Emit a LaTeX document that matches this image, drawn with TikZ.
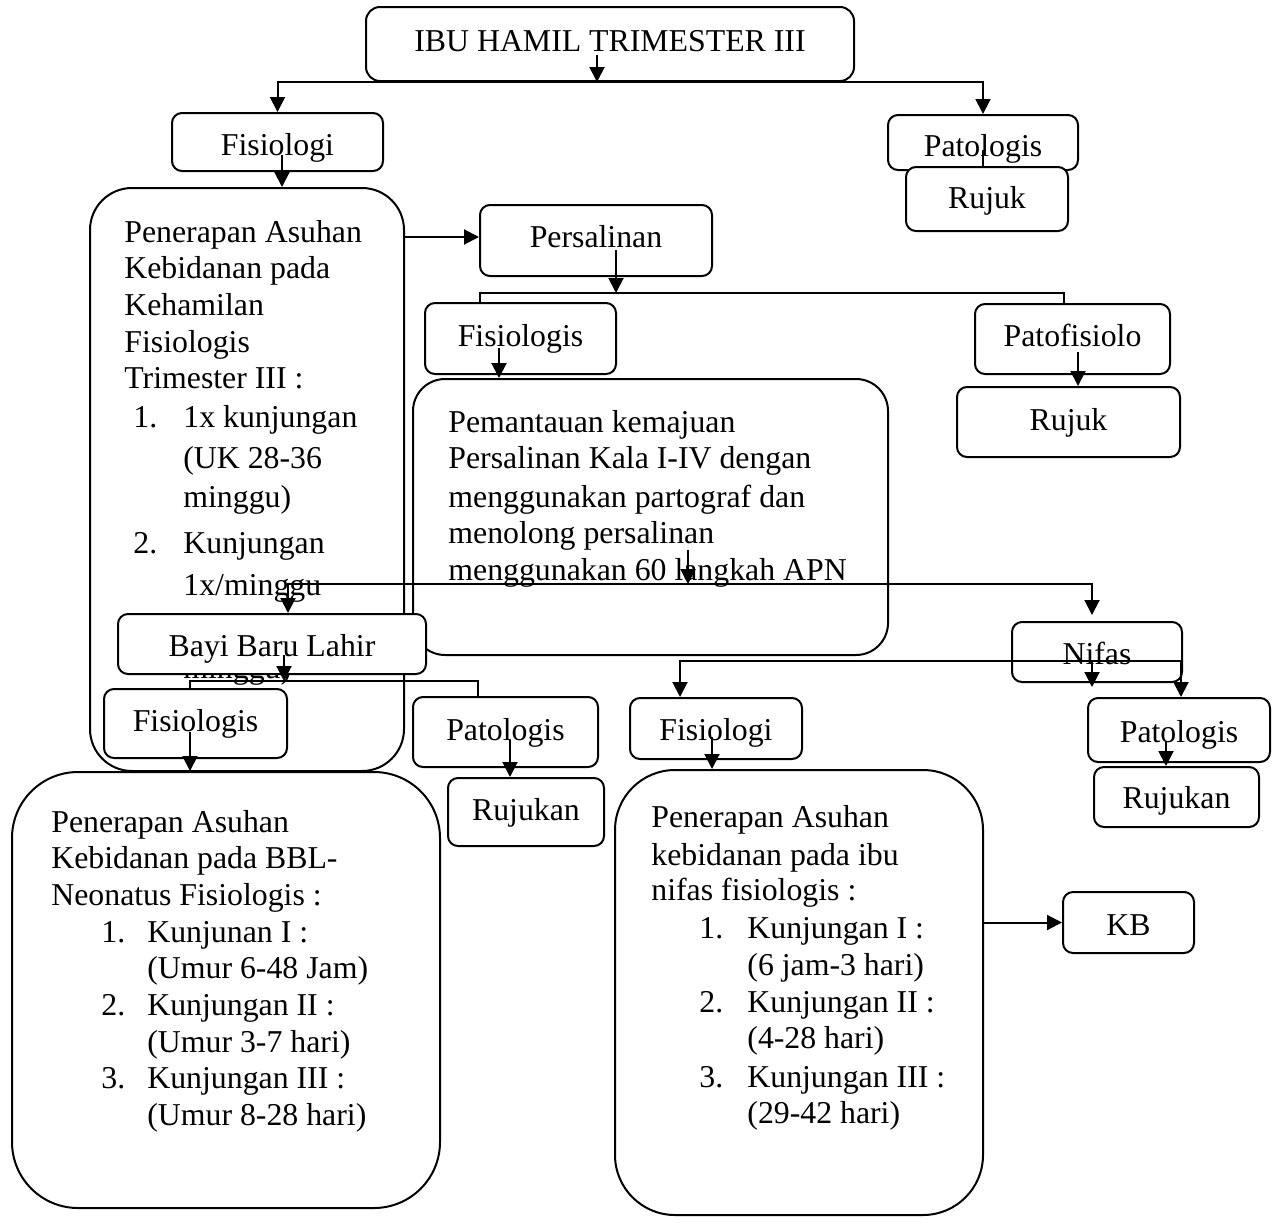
\documentclass[tikz,border=0pt]{standalone}
\usepackage{fontspec}
\setmainfont{Liberation Serif}[Ligatures={TeX,NoCommon}]
\usetikzlibrary{arrows.meta}
\newcommand\fsz{\fontsize{15.9}{18}\selectfont}
\newcommand\TL[1]{\hbox{\smash{#1}}}
\newcommand\SK[1]{\vskip #1\relax}
\begin{document}
\begin{tikzpicture}[x=0.5pt,y=-0.5pt,
  box/.style={draw, fill=white, line width=1pt, rounded corners=5pt, inner sep=0pt, font=\fsz, text depth=0pt},
  bl/.style={text height=#1},
  arr/.style={line width=1pt, -{Triangle[length=7.5pt,width=7.5pt]}},
  dbl/.style={line width=1pt, {Triangle[length=7.5pt,width=7.5pt]}-{Triangle[length=7.5pt,width=7.5pt]}},
  ln/.style={line width=1pt},
  txt/.style={anchor=base west, inner sep=0pt, font=\fsz}]
\fill[white] (0,0) rectangle (1273,1226);
\useasboundingbox (0,0) rectangle (1273,1226);

% --- top level
\node[box, rounded corners=7pt, minimum width=244pt, minimum height=37pt, bl=7pt] (title) at (610,44) {IBU HAMIL TRIMESTER III};
\node[box, minimum width=105.5pt, minimum height=29pt, bl=13pt] (fis1) at (277.5,142) {Fisiologi};
\node[box, minimum width=95pt, minimum height=27.5pt, bl=13.5pt] (pat1) at (983,142.5) {Patologis};
\coordinate (tA) at (597,55);
\coordinate (hTop) at (0,82);
\draw[arr] (tA) -- (tA |- title.south);
\draw[dbl] (fis1.north) -- (fis1.north |- hTop) -- (pat1.north |- hTop) -- (pat1.north);
\coordinate (p1) at (983,150);
\node[box, minimum width=81pt, minimum height=32pt, bl=9pt] (rujuk1) at (987,199) {Rujuk};
\draw[ln] (p1) -- (p1 |- rujuk1.north);

% --- kehamilan box
\node[box, rounded corners=21pt, minimum width=157pt, minimum height=291.5pt] (keh) at (247,479.5) {};
\node[txt] (kehT) at (124,242) {\vtop{\offinterlineskip
 \TL{Penerapan Asuhan}\SK{18pt}
 \TL{Kebidanan pada}\SK{18.5pt}
 \TL{Kehamilan}\SK{18.5pt}
 \TL{Fisiologis}\SK{18pt}
 \TL{Trimester III :}\SK{19.5pt}
 \TL{\hspace*{4.5pt}\makebox[25pt][l]{1.}1x kunjungan}\SK{20.5pt}
 \TL{\hspace*{29.5pt}(UK 28-36}\SK{19.5pt}
 \TL{\hspace*{29.5pt}minggu)}\SK{23pt}
 \TL{\hspace*{4.5pt}\makebox[25pt][l]{2.}Kunjungan}\SK{21pt}
 \TL{\hspace*{29.5pt}1x/minggu}\SK{41.5pt}
 \TL{\hspace*{29.5pt}minggu)}}};
\coordinate (f1a) at (282,155);
\draw[arr] (f1a) -- (f1a |- keh.north);

% --- persalinan
\node[box, minimum width=116pt, minimum height=35.5pt, bl=6.5pt] (pers) at (596,240.5) {Persalinan};
\coordinate (kp) at (0,237);
\draw[arr] (keh.east |- kp) -- (pers.west |- kp);
\node[box, minimum width=95.5pt, minimum height=35.5pt, bl=7.5pt] (fis2) at (520.5,338.5) {Fisiologis};
\node[box, minimum width=97.5pt, minimum height=35pt, bl=7pt] (patof) at (1072.5,339) {Patofisiolo};
\coordinate (pa) at (616,250);
\coordinate (fl) at (480,293);
\coordinate (fr) at (1064,293);
\draw[arr] (pa) -- (pa |- fl);
\draw[ln] (fl |- fis2.north) -- (fl) -- (fr) -- (fr |- patof.north);
\node[box, minimum width=111.5pt, minimum height=35pt, bl=8pt] (rujuk2) at (1068.5,422) {Rujuk};
\coordinate (pfa) at (1078,352);
\draw[arr] (pfa) -- (pfa |- rujuk2.north);

% --- pemantauan
\node[box, rounded corners=16pt, minimum width=237.5pt, minimum height=138pt] (pem) at (650.5,517) {};
\node[txt] (pemT) at (448,432) {\vtop{\offinterlineskip
 \TL{Pemantauan kemajuan}\SK{18pt}
 \TL{Persalinan Kala I-IV dengan}\SK{19.5pt}
 \TL{menggunakan partograf dan}\SK{18pt}
 \TL{menolong persalinan}\SK{18.5pt}
 \TL{menggunakan 60 langkah APN}}};
\coordinate (f2a) at (499,348);
\draw[arr] (f2a) -- (f2a |- pem.north);
\node[box, minimum width=85pt, minimum height=30pt, bl=12pt] (nifas) at (1097,652) {Nifas};
\coordinate (pma) at (688,550);
\coordinate (bL) at (288,584);
\coordinate (bR) at (1092,584);
\coordinate (nfT) at (1092,615);
\draw[arr] (pma) -- (pma |- bL);

% --- bayi baru lahir
\node[box, minimum width=154pt, minimum height=30pt, bl=12pt] (bayi) at (272,644) {Bayi Baru Lahir};
\draw[dbl] (bL |- bayi.north) -- (bL) -- (bR) -- (nfT);
\node[box, minimum width=91.5pt, minimum height=34.5pt, bl=7.5pt] (fis3) at (195.5,723.5) {Fisiologis};
\node[box, minimum width=92.5pt, minimum height=35pt, bl=8pt] (pat2) at (505.5,732) {Patologis};
\coordinate (ba) at (284,655);
\coordinate (l1) at (190,681);
\coordinate (l2) at (478,681);
\draw[arr] (ba) -- (ba |- l1);
\draw[ln] (l1 |- fis3.north) -- (l1) -- (l2) -- (l2 |- pat2.north);

\node[box, rounded corners=33pt, minimum width=214pt, minimum height=218pt] (bbl) at (226,990) {};
\node[txt] (bblT) at (51,832) {\vtop{\offinterlineskip
 \TL{Penerapan Asuhan}\SK{18pt}
 \TL{Kebidanan pada BBL-}\SK{18.5pt}
 \TL{Neonatus Fisiologis :}\SK{18.5pt}
 \TL{\hspace*{25pt}\makebox[23pt][l]{1.}Kunjunan I :}\SK{18pt}
 \TL{\hspace*{48pt}(Umur 6-48 Jam)}\SK{18.5pt}
 \TL{\hspace*{25pt}\makebox[23pt][l]{2.}Kunjungan II :}\SK{18.5pt}
 \TL{\hspace*{48pt}(Umur 3-7 hari)}\SK{18pt}
 \TL{\hspace*{25pt}\makebox[23pt][l]{3.}Kunjungan III :}\SK{18.5pt}
 \TL{\hspace*{48pt}(Umur 8-28 hari)}}};
\coordinate (f3a) at (190,732);
\draw[arr] (f3a) -- (f3a |- bbl.north);
\node[box, minimum width=78pt, minimum height=34pt, bl=8pt] (rujukan2) at (526,812) {Rujukan};
\coordinate (p2a) at (510,740);
\draw[arr] (p2a) -- (p2a |- rujukan2.north);

% --- nifas branch
\node[box, minimum width=86pt, minimum height=30.5pt, bl=11.5pt] (fis4) at (716,728.5) {Fisiologi};
\node[box, minimum width=91pt, minimum height=32pt, bl=12pt] (pat3) at (1179,730) {Patologis};
\coordinate (n1) at (680,661);
\coordinate (n2) at (1181,661);
\coordinate (n3) at (1092,661);
\coordinate (n3e) at (1092,687);
\draw[dbl] (n1 |- fis4.north) -- (n1) -- (n2) -- (n2 |- pat3.north);
\draw[arr] (n3) -- (n3e);
\node[box, minimum width=82.5pt, minimum height=30pt, bl=11pt] (rujukan3) at (1176.5,797) {Rujukan};
\coordinate (p3a) at (1166,742);
\draw[arr] (p3a) -- (p3a |- rujukan3.north);

\node[box, rounded corners=30pt, minimum width=184pt, minimum height=222.5pt] (nbox) at (799,992.5) {};
\node[txt] (nboxT) at (651,827) {\vtop{\offinterlineskip
 \TL{Penerapan Asuhan}\SK{19pt}
 \TL{kebidanan pada ibu}\SK{17.5pt}
 \TL{nifas fisiologis :}\SK{19pt}
 \TL{\hspace*{24pt}\makebox[24pt][l]{1.}Kunjungan I :}\SK{18.5pt}
 \TL{\hspace*{48pt}(6 jam-3 hari)}\SK{18.5pt}
 \TL{\hspace*{24pt}\makebox[24pt][l]{2.}Kunjungan II :}\SK{18pt}
 \TL{\hspace*{48pt}(4-28 hari)}\SK{19.5pt}
 \TL{\hspace*{24pt}\makebox[24pt][l]{3.}Kunjungan III :}\SK{18pt}
 \TL{\hspace*{48pt}(29-42 hari)}}};
\coordinate (f4a) at (712,737);
\draw[arr] (f4a) -- (f4a |- nbox.north);
\node[box, minimum width=65.5pt, minimum height=30.5pt, bl=12.5pt] (kb) at (1128.5,922.5) {KB};
\draw[arr] (nbox.east |- kb.west) -- (kb.west);
\end{tikzpicture}
\end{document}
